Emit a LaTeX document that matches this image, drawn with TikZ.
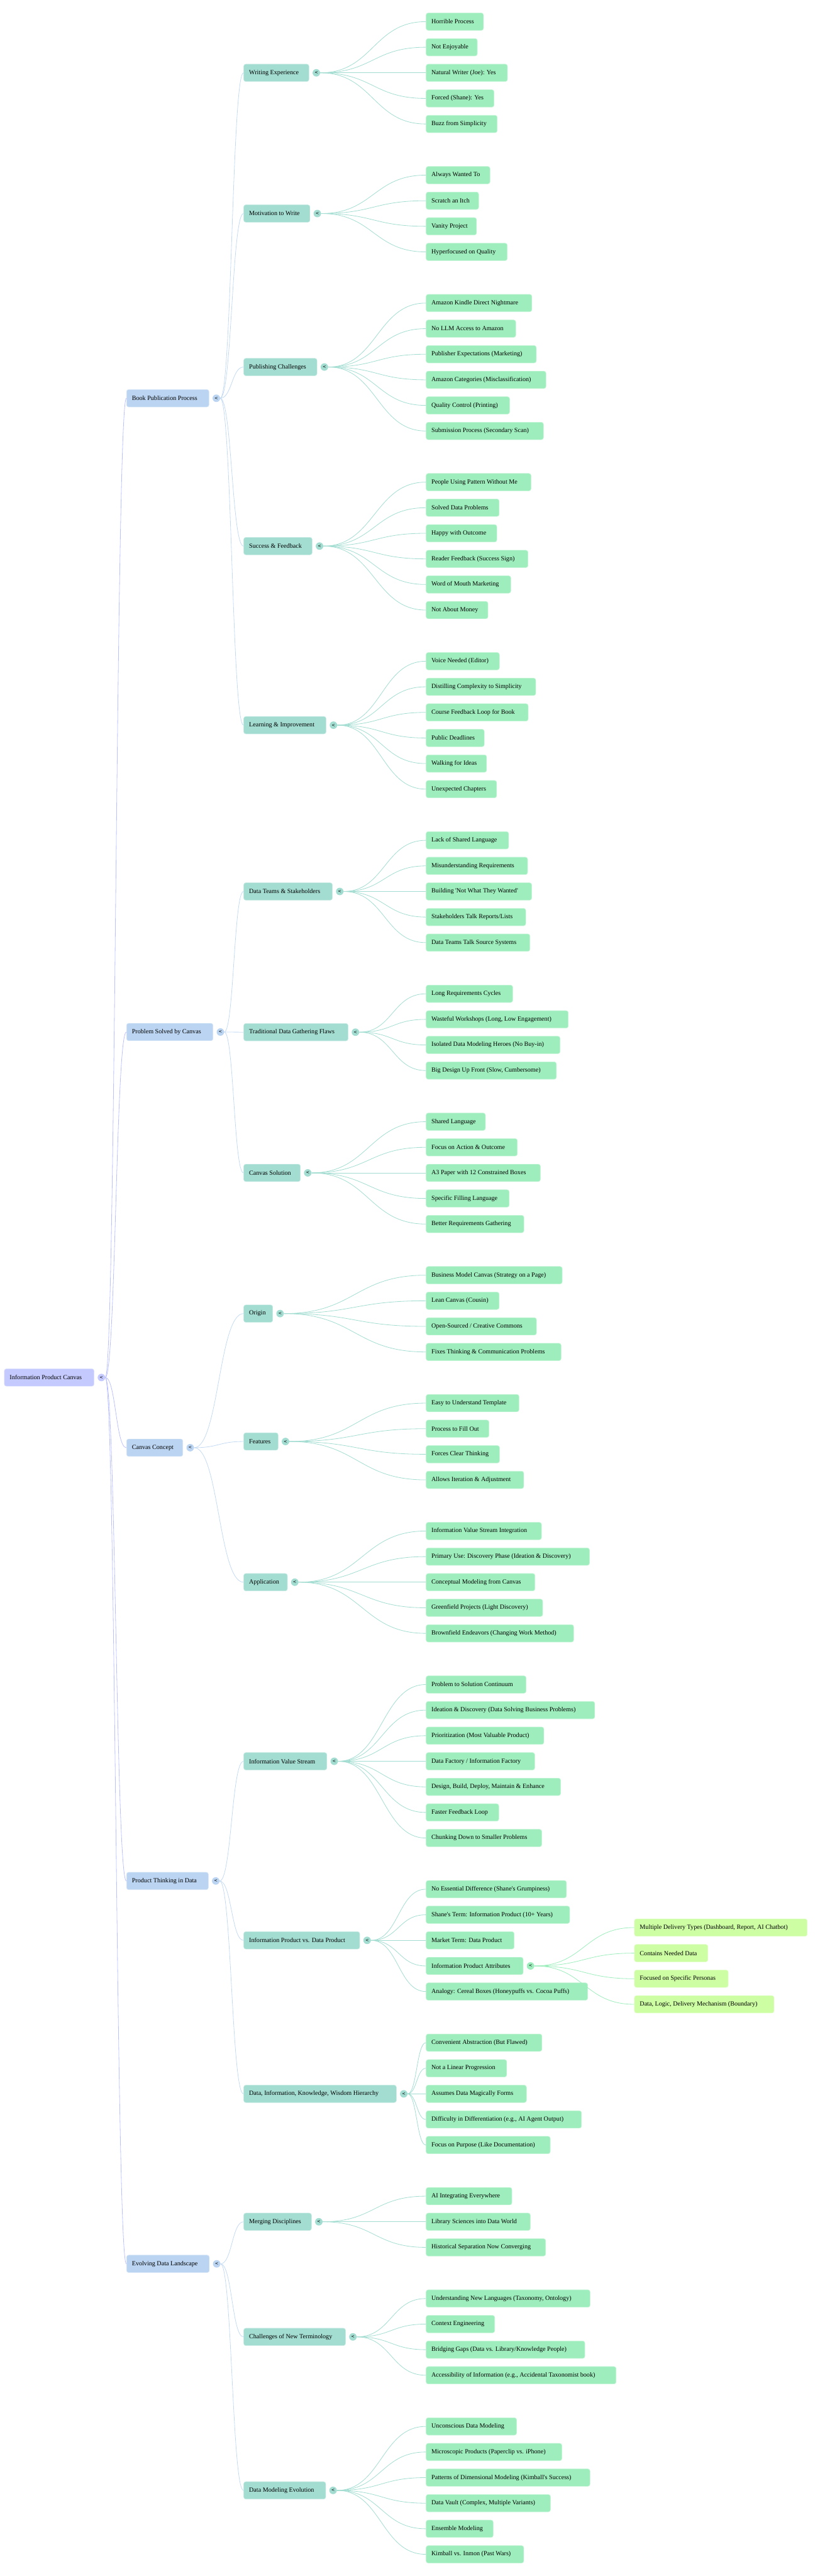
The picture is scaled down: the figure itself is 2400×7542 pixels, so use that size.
\documentclass[tikz,border=0pt]{standalone}
\usepackage{fontspec}
\setmainfont{Liberation Serif}[Ligatures=TeXOff]
\setsansfont{DejaVu Sans}
\usetikzlibrary{positioning,calc}

\definecolor{rootc}{HTML}{C5CAFE}
\definecolor{mainc}{HTML}{BAD4F1}
\definecolor{subc}{HTML}{A3DDD2}
\definecolor{leafc}{HTML}{9EEEBD}
\definecolor{tipc}{HTML}{CDFEA3}

\begin{document}
\begin{tikzpicture}[x=0.02cm, y=-0.02cm,
  box/.style={anchor=west, rounded corners=3.5pt, minimum height=29pt, inner xsep=9pt, inner ysep=2pt,
    line width=0.7pt, font=\fontsize{10.6}{12.7}\selectfont,
    execute at begin node={\setbox0=\hbox\bgroup},
    execute at end node={\egroup\copy0\hskip0.095\wd0}},
  top/.style={box, fill=rootc, draw=rootc!60!white},
  main/.style={box, fill=mainc, draw=mainc!60!white},
  sub/.style={box, fill=subc, draw=subc!60!white},
  leaf/.style={box, fill=leafc, draw=leafc!60!white},
  tip/.style={box, fill=tipc, draw=tipc!60!white},
  knob/.style={circle, fill=#1, inner sep=0pt, minimum size=12.5pt, font=\sffamily\fontsize{7}{7}\selectfont},
  branch/.style={to path={let \p1=(\tikztostart), \p2=(\tikztotarget) in
    .. controls ({(\x1+\x2)/2},\y1) and ({(\x1+\x2)/2},\y2) .. (\tikztotarget)}},
  topline/.style={draw=rootc!95!blue, line width=0.85pt},
  mainline/.style={draw=mainc!85!white, line width=0.85pt},
  subline/.style={draw=subc, line width=0.85pt},
  leafline/.style={draw=leafc, line width=0.85pt}]

  \useasboundingbox (0,0) rectangle (2400,7542);

  % root and first level
  \node[top] (canvas) at (12,4033) {Information Product Canvas};
  \node[knob=rootc, right=5.5pt of canvas] (canvas-k) {<};

  \node[main] (book) at (370,1166) {Book Publication Process};
  \node[main] (problem) at (370,3021.5) {Problem Solved by Canvas};
  \node[main] (concept) at (370,4238.5) {Canvas Concept};
  \node[main] (thinking) at (370,5507) {Product Thinking in Data};
  \node[main] (evolving) at (370,6628) {Evolving Data Landscape};
  \foreach \b in {book,problem,concept,thinking,evolving} {
    \node[knob=mainc, right=5.5pt of \b] (\b-k) {<};
    \draw[topline] (canvas-k.east) to[branch] (\b.west);
  }

  % book publication process
  \node[sub] (we) at (713,{63.4+74.9*2}) {Writing Experience};
  \node[knob=subc, right=5.5pt of we] (we-k) {<};
  \foreach \t [count=\i from 0] in {Horrible Process, Not Enjoyable, {Natural Writer (Joe): Yes},
      {Forced (Shane): Yes}, Buzz from Simplicity} {
    \node[leaf] (we-\i) at (1247,{63.4+74.9*(0+\i)}) {\t};
    \draw[subline] (we-k.east) to[branch] (we-\i.west);
  }

  \node[sub] (mw) at (713,{63.4+74.9*7.5}) {Motivation to Write};
  \node[knob=subc, right=5.5pt of mw] (mw-k) {<};
  \foreach \t [count=\i from 0] in {Always Wanted To, Scratch an Itch, Vanity Project, Hyperfocused on Quality} {
    \node[leaf] (mw-\i) at (1247,{63.4+74.9*(6+\i)}) {\t};
    \draw[subline] (mw-k.east) to[branch] (mw-\i.west);
  }

  \node[sub] (pc) at (713,{63.4+74.9*13.5}) {Publishing Challenges};
  \node[knob=subc, right=5.5pt of pc] (pc-k) {<};
  \foreach \t [count=\i from 0] in {Amazon Kindle Direct Nightmare, No LLM Access to Amazon,
      {Publisher Expectations (Marketing)}, {Amazon Categories (Misclassification)},
      {Quality Control (Printing)}, {Submission Process (Secondary Scan)}} {
    \node[leaf] (pc-\i) at (1247,{63.4+74.9*(11+\i)}) {\t};
    \draw[subline] (pc-k.east) to[branch] (pc-\i.west);
  }

  \node[sub] (sf) at (713,{63.4+74.9*20.5}) {Success \& Feedback};
  \node[knob=subc, right=5.5pt of sf] (sf-k) {<};
  \foreach \t [count=\i from 0] in {People Using Pattern Without Me, Solved Data Problems, Happy with Outcome,
      {Reader Feedback (Success Sign)}, Word of Mouth Marketing, Not About Money} {
    \node[leaf] (sf-\i) at (1247,{63.4+74.9*(18+\i)}) {\t};
    \draw[subline] (sf-k.east) to[branch] (sf-\i.west);
  }

  \node[sub] (li) at (713,{63.4+74.9*27.5}) {Learning \& Improvement};
  \node[knob=subc, right=5.5pt of li] (li-k) {<};
  \foreach \t [count=\i from 0] in {{Voice Needed (Editor)}, Distilling Complexity to Simplicity,
      Course Feedback Loop for Book, Public Deadlines, Walking for Ideas, Unexpected Chapters} {
    \node[leaf] (li-\i) at (1247,{63.4+74.9*(25+\i)}) {\t};
    \draw[subline] (li-k.east) to[branch] (li-\i.west);
  }

  % problem solved by canvas
  \node[sub] (ds) at (713,{63.4+74.9*34}) {Data Teams \& Stakeholders};
  \node[knob=subc, right=5.5pt of ds] (ds-k) {<};
  \foreach \t [count=\i from 0] in {Lack of Shared Language, Misunderstanding Requirements,
      {Building 'Not What They Wanted'}, {Stakeholders Talk Reports/Lists}, Data Teams Talk Source Systems} {
    \node[leaf] (ds-\i) at (1247,{63.4+74.9*(32+\i)}) {\t};
    \draw[subline] (ds-k.east) to[branch] (ds-\i.west);
  }

  \node[sub] (tf) at (713,{63.4+74.9*39.5}) {Traditional Data Gathering Flaws};
  \node[knob=subc, right=5.5pt of tf] (tf-k) {<};
  \foreach \t [count=\i from 0] in {Long Requirements Cycles, {Wasteful Workshops (Long, Low Engagement)},
      {Isolated Data Modeling Heroes (No Buy-in)}, {Big Design Up Front (Slow, Cumbersome)}} {
    \node[leaf] (tf-\i) at (1247,{63.4+74.9*(38+\i)}) {\t};
    \draw[subline] (tf-k.east) to[branch] (tf-\i.west);
  }

  \node[sub] (cs) at (713,{63.4+74.9*45}) {Canvas Solution};
  \node[knob=subc, right=5.5pt of cs] (cs-k) {<};
  \foreach \t [count=\i from 0] in {Shared Language, Focus on Action \& Outcome, A3 Paper with 12 Constrained Boxes,
      Specific Filling Language, Better Requirements Gathering} {
    \node[leaf] (cs-\i) at (1247,{63.4+74.9*(43+\i)}) {\t};
    \draw[subline] (cs-k.east) to[branch] (cs-\i.west);
  }

  % canvas concept
  \node[sub] (or) at (713,{63.4+74.9*50.5}) {Origin};
  \node[knob=subc, right=5.5pt of or] (or-k) {<};
  \foreach \t [count=\i from 0] in {{Business Model Canvas (Strategy on a Page)}, {Lean Canvas (Cousin)},
      {Open-Sourced / Creative Commons}, Fixes Thinking \& Communication Problems} {
    \node[leaf] (or-\i) at (1247,{63.4+74.9*(49+\i)}) {\t};
    \draw[subline] (or-k.east) to[branch] (or-\i.west);
  }

  \node[sub] (fe) at (713,{63.4+74.9*55.5}) {Features};
  \node[knob=subc, right=5.5pt of fe] (fe-k) {<};
  \foreach \t [count=\i from 0] in {Easy to Understand Template, Process to Fill Out, Forces Clear Thinking,
      Allows Iteration \& Adjustment} {
    \node[leaf] (fe-\i) at (1247,{63.4+74.9*(54+\i)}) {\t};
    \draw[subline] (fe-k.east) to[branch] (fe-\i.west);
  }

  \node[sub] (ap) at (713,{63.4+74.9*61}) {Application};
  \node[knob=subc, right=5.5pt of ap] (ap-k) {<};
  \foreach \t [count=\i from 0] in {Information Value Stream Integration,
      {Primary Use: Discovery Phase (Ideation \& Discovery)}, Conceptual Modeling from Canvas,
      {Greenfield Projects (Light Discovery)}, {Brownfield Endeavors (Changing Work Method)}} {
    \node[leaf] (ap-\i) at (1247,{63.4+74.9*(59+\i)}) {\t};
    \draw[subline] (ap-k.east) to[branch] (ap-\i.west);
  }

  % product thinking in data
  \node[sub] (iv) at (713,{63.4+74.9*68}) {Information Value Stream};
  \node[knob=subc, right=5.5pt of iv] (iv-k) {<};
  \foreach \t [count=\i from 0] in {Problem to Solution Continuum,
      {Ideation \& Discovery (Data Solving Business Problems)}, {Prioritization (Most Valuable Product)},
      {Data Factory / Information Factory}, {Design, Build, Deploy, Maintain \& Enhance},
      Faster Feedback Loop, Chunking Down to Smaller Problems} {
    \node[leaf] (iv-\i) at (1247,{63.4+74.9*(65+\i)}) {\t};
    \draw[subline] (iv-k.east) to[branch] (iv-\i.west);
  }

  \node[sub] (ip) at (713,{63.4+74.9*75}) {Information Product vs. Data Product};
  \node[knob=subc, right=5.5pt of ip] (ip-k) {<};
  \foreach \t [count=\i from 0] in {{No Essential Difference (Shane's Grumpiness)},
      {Shane's Term: Information Product (10+ Years)}, {Market Term: Data Product},
      Information Product Attributes, {Analogy: Cereal Boxes (Honeypuffs vs. Cocoa Puffs)}} {
    \node[leaf] (ip-\i) at (1247,{63.4+74.9*(73+\i)}) {\t};
    \draw[subline] (ip-k.east) to[branch] (ip-\i.west);
  }
  \node[knob=leafc, right=5.5pt of ip-3] (ip-3-k) {<};
  \foreach \t [count=\i from 0] in {{Multiple Delivery Types (Dashboard, Report, AI Chatbot)}, Contains Needed Data,
      Focused on Specific Personas, {Data, Logic, Delivery Mechanism (Boundary)}} {
    \node[tip] (at-\i) at (1857,{63.4+74.9*(74.5+\i)}) {\t};
    \draw[leafline] (ip-3-k.east) to[branch] (at-\i.west);
  }

  \node[sub] (dk) at (713,{63.4+74.9*81}) {Data, Information, Knowledge, Wisdom Hierarchy};
  \node[knob=subc, right=5.5pt of dk] (dk-k) {<};
  \foreach \t [count=\i from 0] in {{Convenient Abstraction (But Flawed)}, Not a Linear Progression,
      Assumes Data Magically Forms, {Difficulty in Differentiation (e.g., AI Agent Output)},
      {Focus on Purpose (Like Documentation)}} {
    \node[leaf] (dk-\i) at (1247,{63.4+74.9*(79+\i)}) {\t};
    \draw[subline] (dk-k.east) to[branch] (dk-\i.west);
  }

  % evolving data landscape
  \node[sub] (md) at (713,{63.4+74.9*86}) {Merging Disciplines};
  \node[knob=subc, right=5.5pt of md] (md-k) {<};
  \foreach \t [count=\i from 0] in {AI Integrating Everywhere, Library Sciences into Data World,
      Historical Separation Now Converging} {
    \node[leaf] (md-\i) at (1247,{63.4+74.9*(85+\i)}) {\t};
    \draw[subline] (md-k.east) to[branch] (md-\i.west);
  }

  \node[sub] (ct) at (713,{63.4+74.9*90.5}) {Challenges of New Terminology};
  \node[knob=subc, right=5.5pt of ct] (ct-k) {<};
  \foreach \t [count=\i from 0] in {{Understanding New Languages (Taxonomy, Ontology)}, Context Engineering,
      {Bridging Gaps (Data vs. Library/Knowledge People)},
      {Accessibility of Information (e.g., Accidental Taxonomist book)}} {
    \node[leaf] (ct-\i) at (1247,{63.4+74.9*(89+\i)}) {\t};
    \draw[subline] (ct-k.east) to[branch] (ct-\i.west);
  }

  \node[sub] (de) at (713,{63.4+74.9*96.5}) {Data Modeling Evolution};
  \node[knob=subc, right=5.5pt of de] (de-k) {<};
  \foreach \t [count=\i from 0] in {Unconscious Data Modeling, {Microscopic Products (Paperclip vs. iPhone)},
      {Patterns of Dimensional Modeling (Kimball's Success)}, {Data Vault (Complex, Multiple Variants)},
      Ensemble Modeling, {Kimball vs. Inmon (Past Wars)}} {
    \node[leaf] (de-\i) at (1247,{63.4+74.9*(94+\i)}) {\t};
    \draw[subline] (de-k.east) to[branch] (de-\i.west);
  }

  % first level to second level
  \foreach \b in {we,mw,pc,sf,li} \draw[mainline] (book-k.east) to[branch] (\b.west);
  \foreach \b in {ds,tf,cs} \draw[mainline] (problem-k.east) to[branch] (\b.west);
  \foreach \b in {or,fe,ap} \draw[mainline] (concept-k.east) to[branch] (\b.west);
  \foreach \b in {iv,ip,dk} \draw[mainline] (thinking-k.east) to[branch] (\b.west);
  \foreach \b in {md,ct,de} \draw[mainline] (evolving-k.east) to[branch] (\b.west);
\end{tikzpicture}
\end{document}
